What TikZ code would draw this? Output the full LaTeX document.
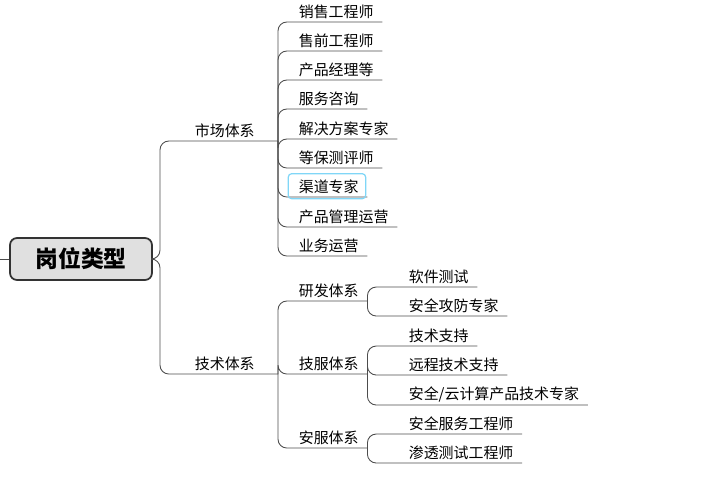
\documentclass[tikz,border=0pt]{standalone}
\usepackage{fontspec}
\setmainfont{Noto Sans CJK SC}
\usetikzlibrary{positioning}
\tikzset{
  link/.style={draw=black!70, line width=0.5pt, rounded corners=5pt},
  rootbox/.style={draw=black!80, fill=black!12, line width=1pt, rounded corners=4pt,
    minimum width=2.84cm, minimum height=0.84cm, font=\fontsize{13}{15}\selectfont\bfseries},
  branch/.style={anchor=south east, inner xsep=0.46cm, inner ysep=1.5pt, font=\fontsize{8.5}{10}\selectfont},
  leaf/.style={anchor=south west, inner xsep=0.17cm, inner ysep=1.5pt, font=\fontsize{8.5}{10}\selectfont},
}
\begin{document}
\begin{tikzpicture}[x=0.02cm,y=-0.02cm]
  \useasboundingbox (0,0) rectangle (720,478);

  % root
  \node[rootbox] (root) at (81,259) {岗位类型};
  \coordinate (rin) at (0,259);
  \coordinate (rj) at (160,259);
  \draw[link] (rin) -- (root.west);

  % level one
  \node[branch] (mkt) at (278,141) {市场体系};
  \node[branch] (tech) at (278,374) {技术体系};
  \draw[link] (root.east) -- (rj) |- (mkt.south east);
  \draw[link] (root.east) -- (rj) |- (tech.south east);

  % market children
  \foreach \name/\y/\txt in {m1/22/销售工程师, m2/51/售前工程师, m3/80/产品经理等,
      m4/109/服务咨询, m5/139/解决方案专家, m6/168/等保测评师, m7/197/渠道专家,
      m8/227/产品管理运营, m9/256/业务运营}{
    \node[leaf] (\name) at (290,\y) {\txt};
    \draw[link] (mkt.south east) |- (\name.south east);
  }
  \draw[cyan!50, line width=0.7pt, rounded corners=2pt]
    ([xshift=-1pt,yshift=-1pt]m7.south west) rectangle ([xshift=-1pt,yshift=2pt]m7.north east);

  % tech children
  \node[leaf] (rd) at (290,301) {研发体系};
  \node[leaf] (ts) at (290,374) {技服体系};
  \node[leaf] (ss) at (290,448) {安服体系};
  \foreach \name in {rd,ts,ss}
    \draw[link] (tech.south east) |- (\name.south east);

  % third level
  \foreach \up/\name/\y/\txt in {rd/r1/287/软件测试, rd/r2/316/安全攻防专家,
      ts/t1/346/技术支持, ts/t2/375/远程技术支持, ts/t3/405/{安全/云计算产品技术专家},
      ss/s1/434/安全服务工程师, ss/s2/463/渗透测试工程师}{
    \node[leaf] (\name) at (400,\y) {\txt};
    \draw[link] (\up.south east) |- (\name.south east);
  }
\end{tikzpicture}
\end{document}
